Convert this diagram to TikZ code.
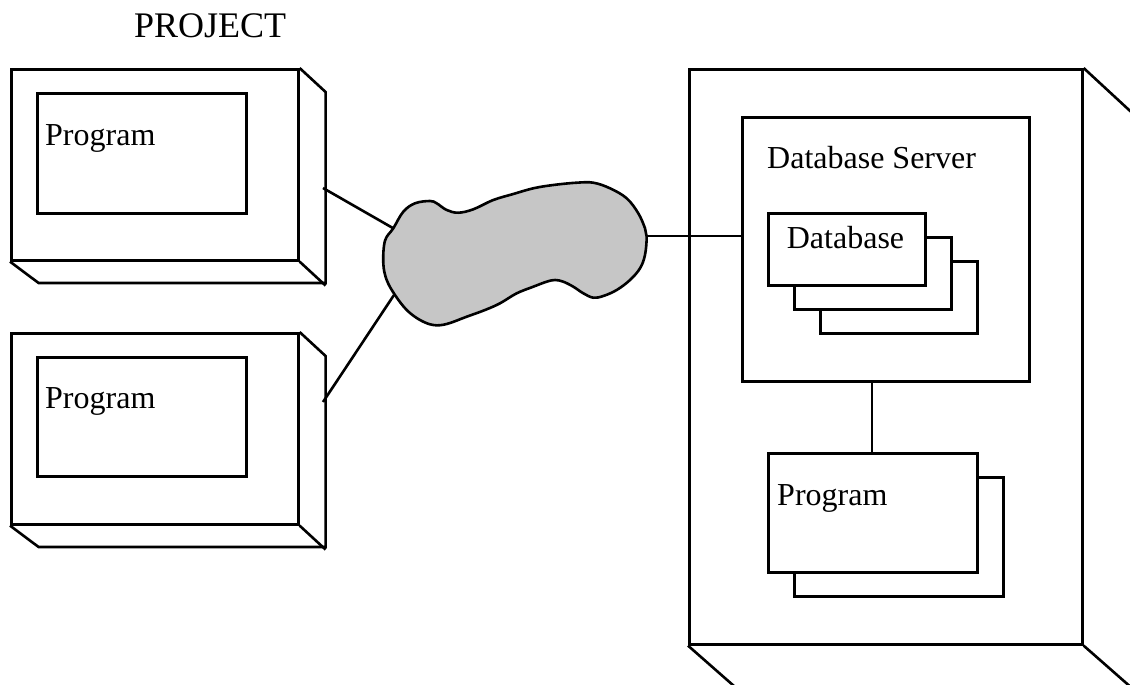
\documentclass[tikz,border=0pt]{standalone}
\usepackage{fontspec}
\setmainfont{Liberation Serif}
\usetikzlibrary{calc}
\begin{document}
\begin{tikzpicture}[x=1pt,y=-1pt,
  ln/.style={line width=2.6pt, line join=miter},
  box/.style={ln, draw, fill=white, anchor=north west, inner sep=0pt},
  lbl/.style={anchor=base west, inner sep=0pt, font=\fontsize{32}{38}\selectfont},
  cloudfill/.style={ln, draw=black, fill=cloudgray}]
\definecolor{cloudgray}{HTML}{C6C6C6}
\useasboundingbox (0,0) rectangle (1130,685);
\clip (0,0) rectangle (1130,685);
% title
\node[anchor=base west, inner sep=0pt, font=\fontsize{36}{42}\selectfont] (title) at (134,38) {PROJECT};
% ---------- top-left client ----------
\node[box, minimum width=287pt, minimum height=191pt] (pc1) at (10,68) {};
\draw[ln] (pc1.north east) -- ++(26,24) -- ++(0,191) -- ++(-287,0) -- (pc1.south west);
\draw[ln] (pc1.south east) -- ++(26,24);
\node[box, minimum width=209pt, minimum height=120pt] (prog1) at (36,92) {};
\node[lbl] (prog1t) at (45,145) {Program};
% ---------- bottom-left client ----------
\node[box, minimum width=287pt, minimum height=191pt] (pc2) at (10,332) {};
\draw[ln] (pc2.north east) -- ++(26,24) -- ++(0,191) -- ++(-287,0) -- (pc2.south west);
\draw[ln] (pc2.south east) -- ++(26,24);
\node[box, minimum width=209pt, minimum height=119pt] (prog2) at (36,356) {};
\node[lbl] (prog2t) at (45,408) {Program};
% ---------- server node ----------
\node[box, minimum width=393pt, minimum height=575pt] (srv) at (688,68) {};
\draw[ln] (srv.north east) -- ++(66,61);
\draw[ln] (srv.south east) -- ++(66,58);
\draw[ln] (srv.south west) -- ++(66,58);
\node[box, minimum width=287pt, minimum height=264pt] (dbs) at (741,116) {};
\node[lbl] (dbst) at (767,168) {Database Server};
\node[box, minimum width=157pt, minimum height=72pt] (db3) at (819,260) {};
\node[box, minimum width=157pt, minimum height=72pt] (db2) at (793,236) {};
\node[box, minimum width=157pt, minimum height=72pt] (db1) at (767,212) {};
\node[anchor=base, inner sep=0pt, font=\fontsize{32}{38}\selectfont] (db1t) at (845.5,248) {Database};
\node[box, minimum width=209pt, minimum height=119pt] (prog4) at (793,476) {};
\node[box, minimum width=209pt, minimum height=119pt] (prog3) at (767,452) {};
\node[lbl] (prog3t) at (777,505) {Program};
% ---------- network cloud ----------
\draw[cloudfill] plot[smooth cycle, tension=0.6] coordinates {
 (385,240.7) (393.3,228.3) (403.3,211.7) (415,203.3) (430,201) (436.7,203.3)
 (446.7,210) (458.3,212.7) (473.3,209.3) (493.3,200) (513.3,194) (533.3,188.3)
 (553.3,185) (576.7,182.7) (593.3,182.7) (610,188.3) (626.7,198.3) (638.3,213.3)
 (645,228.3) (646.7,236.7) (645,255) (640,268.3) (630,280) (616.7,290)
 (603.3,296) (593.3,297.7) (583.3,293.3) (573.3,286.7) (563.3,281.7) (555,280)
 (546.7,281.7) (533.3,286.7) (516.7,293.3) (500,303.3) (485,310) (466.7,316.7)
 (446.7,324) (433.3,325) (420,320) (406.7,310) (395,295) (386.7,280) (383.3,263.3)};
\coordinate (cl1) at (393.3,228.3);
\coordinate (cl2) at (394,295);
\coordinate (cl3) at (646.7,236);
\coordinate (pc1r) at (323,188);
\coordinate (pc2r) at (323,402);
% ---------- connectors ----------
\draw[ln] (pc1r) -- (cl1);
\draw[ln] (pc2r) -- (cl2);
\draw[ln] (cl3) -- (cl3 -| dbs.west);
\draw[ln] (dbs.south -| 872,0) -- (prog3.north -| 872,0);
\end{tikzpicture}
\end{document}
